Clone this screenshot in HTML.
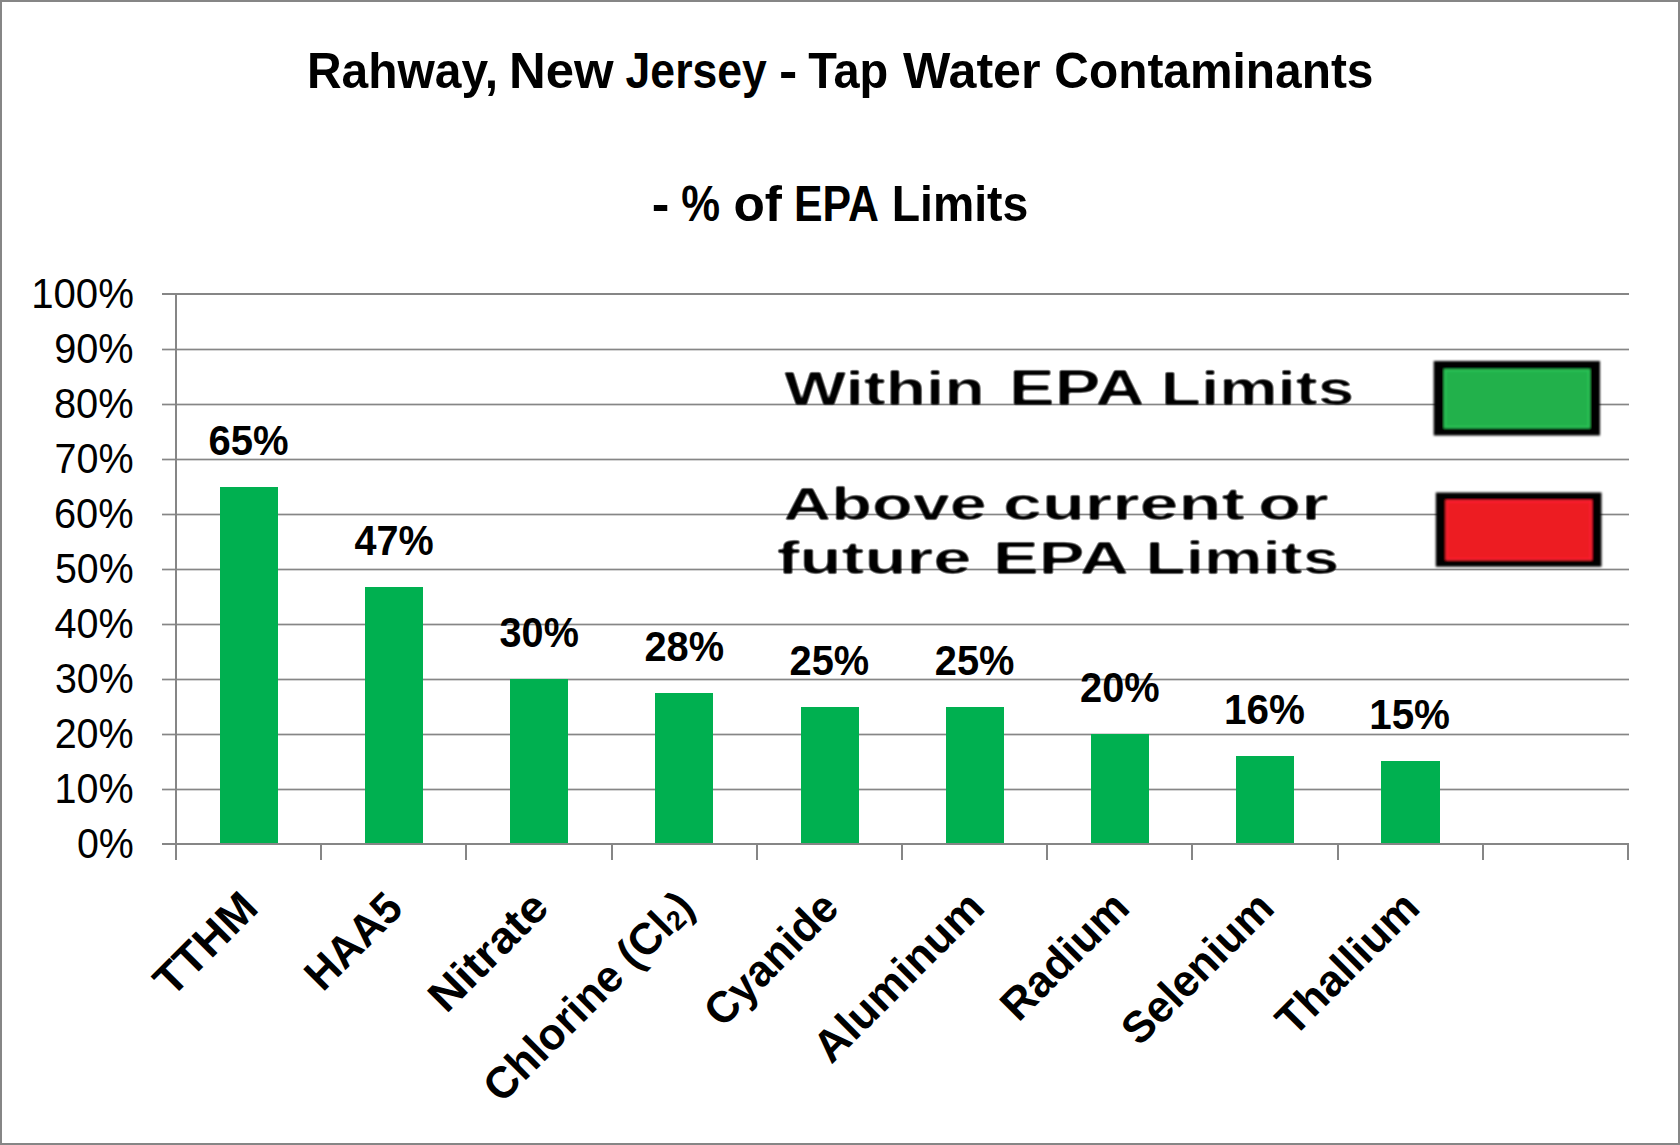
<!DOCTYPE html>
<html lang="en">
<head>
<meta charset="utf-8">
<title>Rahway, New Jersey - Tap Water Contaminants</title>
<style>
html,body{margin:0;padding:0;background:#fff;}
body{width:1680px;height:1145px;overflow:hidden;}
svg{display:block;}
</style>
</head>
<body>
<svg width="1680" height="1145" viewBox="0 0 1680 1145" font-family="'Liberation Sans', sans-serif" fill="#000">
<defs><filter id="bl" x="-5%" y="-20%" width="110%" height="140%"><feGaussianBlur stdDeviation="1.25"/><feComponentTransfer><feFuncA type="linear" slope="1.5" intercept="-0.42"/></feComponentTransfer></filter><filter id="bx" x="-5%" y="-10%" width="110%" height="120%"><feGaussianBlur stdDeviation="0.8"/></filter></defs>
<rect x="0" y="0" width="1680" height="1145" fill="#fff"/>
<rect x="1" y="1" width="1678" height="1143" fill="none" stroke="#868686" stroke-width="2"/>
<rect x="162" y="293" width="1467" height="2" fill="#868686" shape-rendering="crispEdges"/>
<g fill="#868686">
<rect x="162" y="348.65" width="1467" height="1.7"/>
<rect x="162" y="403.65" width="1467" height="1.7"/>
<rect x="162" y="458.65" width="1467" height="1.7"/>
<rect x="162" y="513.65" width="1467" height="1.7"/>
<rect x="162" y="568.65" width="1467" height="1.7"/>
<rect x="162" y="623.65" width="1467" height="1.7"/>
<rect x="162" y="678.65" width="1467" height="1.7"/>
<rect x="162" y="733.65" width="1467" height="1.7"/>
<rect x="162" y="788.65" width="1467" height="1.7"/>
</g>
<g fill="#00B050" shape-rendering="crispEdges">
<rect x="220" y="487" width="58" height="356"/>
<rect x="365" y="587" width="58" height="256"/>
<rect x="510" y="679" width="58" height="164"/>
<rect x="655" y="693" width="58" height="150"/>
<rect x="801" y="707" width="58" height="136"/>
<rect x="946" y="707" width="58" height="136"/>
<rect x="1091" y="734" width="58" height="109"/>
<rect x="1236" y="756" width="58" height="87"/>
<rect x="1381" y="761" width="59" height="82"/>
</g>
<g fill="#868686" shape-rendering="crispEdges">
<rect x="162" y="843" width="1467" height="2"/>
<rect x="175" y="293" width="2" height="567"/>
<rect x="320" y="845" width="2" height="15"/>
<rect x="465" y="845" width="2" height="15"/>
<rect x="611" y="845" width="2" height="15"/>
<rect x="756" y="845" width="2" height="15"/>
<rect x="901" y="845" width="2" height="15"/>
<rect x="1046" y="845" width="2" height="15"/>
<rect x="1191" y="845" width="2" height="15"/>
<rect x="1337" y="845" width="2" height="15"/>
<rect x="1482" y="845" width="2" height="15"/>
<rect x="1627" y="845" width="2" height="15"/>
</g>
<g font-size="50.6" font-weight="bold">
<text transform="translate(306.942 87.5) scale(0.948 1)">Rahway,</text>
<text transform="translate(508.938 87.5) scale(1.006 1)">New</text>
<text transform="translate(625.61 87.5) scale(0.88 1)">Jersey</text>
<text transform="translate(779.05 87.5) scale(1.087 1)">-</text>
<text transform="translate(808.28 87.5) scale(0.928 1)">Tap</text>
<text transform="translate(903 87.5) scale(0.992 1)">Water</text>
<text transform="translate(1054.335 87.5) scale(0.946 1)">Contaminants</text>
<text transform="translate(651.63 221.3) scale(1.047 1)">-</text>
<text transform="translate(681.19 221.3) scale(0.863 1)">%</text>
<text transform="translate(733.444 221.3) scale(1.016 1)">of</text>
<text transform="translate(794.003 221.3) scale(0.846 1)">EPA</text>
<text transform="translate(891.754 221.3) scale(0.917 1)">Limits</text>
</g>
<g font-size="42.6">
<text transform="translate(31.187 308) scale(0.943 1)">100%</text>
<text transform="translate(54.216 363) scale(0.932 1)">90%</text>
<text transform="translate(53.906 418) scale(0.935 1)">80%</text>
<text transform="translate(54.523 473) scale(0.928 1)">70%</text>
<text transform="translate(53.908 528) scale(0.935 1)">60%</text>
<text transform="translate(54.927 583) scale(0.923 1)">50%</text>
<text transform="translate(54.61 638) scale(0.927 1)">40%</text>
<text transform="translate(55.029 693) scale(0.922 1)">30%</text>
<text transform="translate(54.626 748) scale(0.927 1)">20%</text>
<text transform="translate(54.538 803) scale(0.928 1)">10%</text>
<text transform="translate(76.926 858) scale(0.924 1)">0%</text>
</g>
<g font-size="42.8" font-weight="bold">
<text transform="translate(208.4 454.7) scale(0.935 1)">65%</text>
<text transform="translate(354.408 554.7) scale(0.925 1)">47%</text>
<text transform="translate(499.608 646.7) scale(0.925 1)">30%</text>
<text transform="translate(644.406 660.7) scale(0.93 1)">28%</text>
<text transform="translate(789.606 674.7) scale(0.93 1)">25%</text>
<text transform="translate(934.806 674.7) scale(0.93 1)">25%</text>
<text transform="translate(1080.006 701.7) scale(0.93 1)">20%</text>
<text transform="translate(1223.975 723.7) scale(0.944 1)">16%</text>
<text transform="translate(1369.175 728.7) scale(0.944 1)">15%</text>
</g>
<g font-size="44.3" font-weight="bold">
<text transform="translate(171.862 998.538) rotate(-45) scale(1.016 1)">TTHM</text>
<text transform="translate(322.787 992.813) rotate(-45) scale(0.964 1)">HAA5</text>
<text transform="translate(446.235 1014.565) rotate(-45) scale(1.056 1)">Nitrate</text>
<text transform="translate(501.621 1104.379) rotate(-45) scale(0.981 1)">Chlorine (Cl<tspan font-size="0.62em" dy="0.09em">2</tspan><tspan dy="-0.0558em">)</tspan></text>
<text transform="translate(722.28 1028.92) rotate(-45) scale(0.974 1)">Cyanide</text>
<text transform="translate(831.347 1065.053) rotate(-45) scale(1.014 1)">Aluminum</text>
<text transform="translate(1018.618 1022.982) rotate(-45) scale(0.984 1)">Radium</text>
<text transform="translate(1139.526 1047.274) rotate(-45) scale(0.983 1)">Selenium</text>
<text transform="translate(1294.039 1037.961) rotate(-45) scale(0.993 1)">Thallium</text>
</g>
<g font-weight="bold" filter="url(#bl)">
<text transform="translate(783.9 404.6) scale(1.346 1)" font-size="49">Within</text>
<text transform="translate(1008.956 404.6) scale(1.398 1)" font-size="49">EPA</text>
<text transform="translate(1160.799 404.6) scale(1.341 1)" font-size="49">Limits</text>
<text transform="translate(783.202 520.2) scale(1.423 1)" font-size="46.8">Above</text>
<text transform="translate(1002.889 520.2) scale(1.501 1)" font-size="46.8">current</text>
<text transform="translate(1258.074 520.2) scale(1.509 1)" font-size="46.8">or</text>
<text transform="translate(776.625 574) scale(1.485 1)" font-size="46.3">future</text>
<text transform="translate(992.886 574) scale(1.485 1)" font-size="46.3">EPA</text>
<text transform="translate(1145.594 574) scale(1.421 1)" font-size="46.3">Limits</text>
</g>
<g filter="url(#bx)">
<rect x="1433.7" y="361" width="166.3" height="74.5" fill="#000"/><rect x="1443.8" y="369.1" width="146.4" height="59.2" fill="#2BC456"/><rect x="1446.2" y="371.5" width="141.6" height="54.4" fill="#22B14C"/>
<rect x="1435.8" y="492.5" width="165.7" height="74.2" fill="#000"/><rect x="1445.5" y="499.9" width="146.7" height="60.4" fill="#FF2230"/><rect x="1447.9" y="502.3" width="141.9" height="55.6" fill="#ED1C24"/>
</g>
</svg>
</body>
</html>
